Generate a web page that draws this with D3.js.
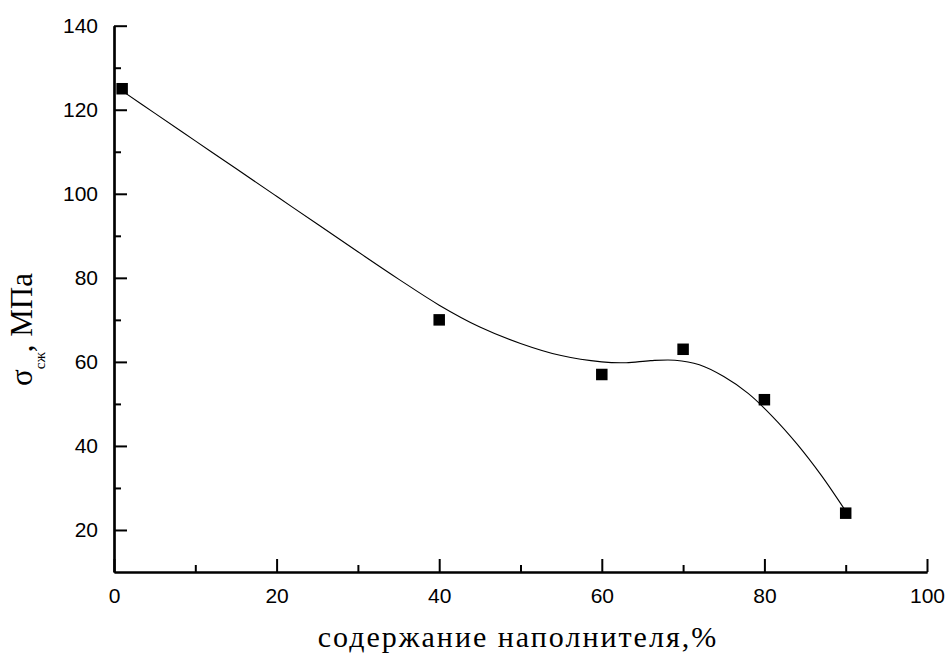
<!DOCTYPE html>
<html>
<head>
<meta charset="utf-8">
<script src="https://cdn.jsdelivr.net/npm/d3@7"></script>
<style>
  body { margin: 0; background: #fff; }
  svg { display: block; }
</style>
</head>
<body>
<svg width="948" height="653"></svg>
<script>
// measured points
const fillerPct = [1, 40, 60, 70, 80, 90];
const strength = [125, 70, 57, 63, 51, 24];

// smooth fitted curve
const fitX = [1, 5, 10, 15, 20, 25, 30, 35, 40, 45, 50, 55, 60, 63, 66, 69, 72, 75, 78, 81, 84, 87, 90];
const fitY = [124.5, 119.2, 112.6, 106, 99.4, 92.8, 86.2, 79.7, 73.5, 68.3, 64.4, 61.5, 60, 59.8, 60.3, 60.4, 59.3, 56.5, 52.5, 47, 40.5, 33, 24.5];

const xTicks = [0, 20, 40, 60, 80, 100];
const yTicks = [20, 40, 60, 80, 100, 120, 140];

const svg = d3.select("svg");
const x = d3.scaleLinear().domain([0, 100]).range([114, 927]);
const y = d3.scaleLinear().domain([10, 140]).range([572, 25.7]);

// axes, ticks point inward
const xAxis = d3.axisBottom(x).tickValues(xTicks).tickSize(-13).tickSizeOuter(0).tickPadding(16);
const xMinor = d3.axisBottom(x).tickValues(d3.range(10, 100, 20)).tickSize(-7).tickSizeOuter(0).tickFormat("");
const yAxis = d3.axisLeft(y).tickValues(yTicks).tickSize(-13).tickSizeOuter(0).tickPadding(16);
const yMinor = d3.axisLeft(y).tickValues(d3.range(30, 140, 20)).tickSize(-7).tickSizeOuter(0).tickFormat("");

function styleAxis(g) {
  g.selectAll("path.domain").attr("stroke", "#000").attr("stroke-width", 2.2).attr("fill", "none");
  g.selectAll(".tick line").attr("stroke", "#000").attr("stroke-width", 2);
  g.selectAll(".tick text")
    .attr("fill", "#000")
    .style("font-family", "'Liberation Sans', Arial, sans-serif")
    .style("font-size", "21px");
}

svg.append("g").attr("transform", "translate(0,572)").call(xMinor).call(styleAxis);
svg.append("g").attr("transform", "translate(0,572)").call(xAxis).call(styleAxis);
svg.append("g").attr("transform", "translate(114,0)").call(yMinor).call(styleAxis);
svg.append("g").attr("transform", "translate(114,0)").call(yAxis).call(styleAxis);

// fitted curve
const fit = fitX.map((v, i) => [v, fitY[i]]);
svg.append("path")
  .datum(fit)
  .attr("fill", "none")
  .attr("stroke", "#000")
  .attr("stroke-width", 1.1)
  .attr("d", d3.line().x(d => x(d[0])).y(d => y(d[1])).curve(d3.curveCatmullRom.alpha(0.5)));

// points
const s = 11.5;
svg.append("g")
  .selectAll("rect")
  .data(fillerPct.map((v, i) => ({ x: v, y: strength[i] })))
  .join("rect")
  .attr("x", d => x(d.x) - s / 2)
  .attr("y", d => y(d.y) - s / 2)
  .attr("width", s)
  .attr("height", s)
  .attr("fill", "#000");

// axis titles
svg.append("text")
  .attr("x", 518)
  .attr("y", 647)
  .attr("text-anchor", "middle")
  .style("font-family", "'Liberation Serif', 'Times New Roman', serif")
  .style("font-size", "30px")
  .style("letter-spacing", "2px")
  .text("содержание наполнителя,%");

const yt = svg.append("text")
  .attr("transform", "translate(32,386) rotate(-90)")
  .style("font-family", "'Liberation Serif', 'Times New Roman', serif")
  .style("font-size", "31px");
yt.append("tspan").text("σ");
yt.append("tspan").attr("dy", 13).style("font-size", "15px").text("сж");
yt.append("tspan").attr("dy", -13).text(", МПа");
</script>
</body>
</html>
